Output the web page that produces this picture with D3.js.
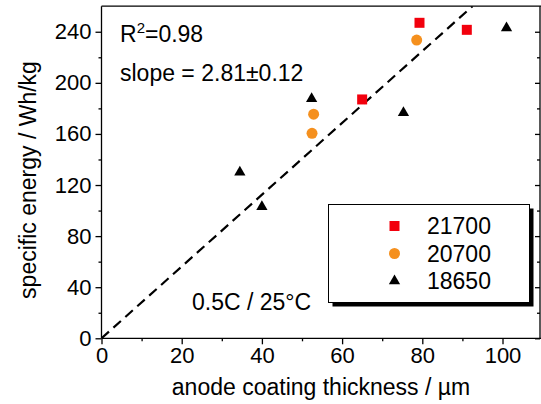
<!DOCTYPE html>
<html>
<head>
<meta charset="utf-8">
<script src="https://cdn.jsdelivr.net/npm/d3@7"></script>
<style>
    body { margin: 0; background: #fff; }
    text { font-family: "Liberation Sans", Arial, sans-serif; fill: #000; }
</style>
</head>
<body>
<script>
// series: anode coating thickness (µm) vs specific energy (Wh/kg)
const cells21700 = [[79.3, 247], [91.1, 241.5], [65.0, 187]];
const cells20700 = [[78.6, 233.5], [52.9, 175.5], [52.5, 160.5]];
const cells18650 = [[101, 243], [52.4, 187.5], [75.3, 176.5], [34.5, 130], [40.0, 103]];
const fitSlope = 2.81;

const xTicks = [0, 20, 40, 60, 80, 100];
const yTicks = [0, 40, 80, 120, 160, 200, 240];
const legendNames = ["21700", "20700", "18650"];

const width = 541;
const height = 404;

const x = d3.scaleLinear().domain([0, 109.6]).range([101.5, 541]);
const y = d3.scaleLinear().domain([0, 260]).range([338.3, 6.2]);

const svg = d3.select('body').append("svg")
    .attr("width", width)
    .attr("height", height);

// frame
const frame = svg.append("g")
    .attr("stroke", "#000")
    .attr("stroke-width", 1.3)
    .attr("fill", "none");
frame.append("line").attr("x1", x(0)).attr("x2", x(0)).attr("y1", y(0)).attr("y2", y(260));
frame.append("line").attr("x1", x(0)).attr("x2", width).attr("y1", y(0)).attr("y2", y(0));
frame.append("line").attr("x1", x(0)).attr("x2", width).attr("y1", y(260)).attr("y2", y(260));
frame.append("line").attr("x1", width - 1).attr("x2", width - 1).attr("y1", y(0)).attr("y2", y(260));

// axes
svg.append("g")
    .attr("transform", `translate(0,${y(0)})`)
    .call(d3.axisBottom(x).tickValues(xTicks).tickSize(6).tickPadding(3).tickFormat(d3.format("d")));
svg.append("g")
    .attr("transform", `translate(0,${y(0)})`)
    .call(d3.axisBottom(x).tickValues(d3.range(10, 110, 20)).tickSize(3).tickFormat(""));

svg.append("g")
    .attr("transform", `translate(${x(0)},0)`)
    .call(d3.axisLeft(y).tickValues(yTicks).tickSize(6).tickPadding(4).tickFormat(d3.format("d")));
svg.append("g")
    .attr("transform", `translate(${x(0)},0)`)
    .call(d3.axisLeft(y).tickValues(d3.range(20, 260, 40)).tickSize(3).tickFormat(""));

// right side inward ticks
svg.append("g")
    .attr("transform", `translate(${width - 1},0)`)
    .call(d3.axisLeft(y).tickValues(yTicks).tickSize(5).tickFormat(""));
svg.append("g")
    .attr("transform", `translate(${width - 1},0)`)
    .call(d3.axisLeft(y).tickValues(d3.range(20, 260, 40)).tickSize(3).tickFormat(""));

svg.selectAll(".domain").remove();
svg.selectAll(".tick line").attr("stroke", "#000").attr("stroke-width", 1.3);
svg.selectAll(".tick text")
    .attr("font-size", 22)
    .attr("font-family", "Liberation Sans, Arial, sans-serif")
    .attr("fill", "#000");

// axis titles
svg.append("text")
    .attr("x", 321)
    .attr("y", 395)
    .attr("text-anchor", "middle")
    .attr("font-size", 23)
    .text("anode coating thickness / µm");

svg.append("text")
    .attr("transform", `translate(36,180) rotate(-90)`)
    .attr("text-anchor", "middle")
    .attr("font-size", 23)
    .text("specific energy / Wh/kg");

// fit line through origin
svg.append("defs").append("clipPath").attr("id", "plot")
    .append("rect")
    .attr("x", x(0)).attr("y", y(260))
    .attr("width", width - x(0)).attr("height", y(0) - y(260));

svg.append("line")
    .attr("clip-path", "url(#plot)")
    .attr("x1", x(0)).attr("y1", y(0))
    .attr("x2", x(260 / fitSlope)).attr("y2", y(260))
    .attr("stroke", "#000")
    .attr("stroke-width", 2.2)
    .attr("stroke-dasharray", "10,6");

// markers
const square = d3.symbol().type(d3.symbolSquare).size(100);
const circle = d3.symbol().type(d3.symbolCircle).size(95);
const triangle = d3.symbol().type(d3.symbolTriangle).size(55);

const series = [
    { name: legendNames[0], data: cells21700, sym: square, color: "#f2000d" },
    { name: legendNames[1], data: cells20700, sym: circle, color: "#f5901e" },
    { name: legendNames[2], data: cells18650, sym: triangle, color: "#000" }
];

series.forEach(s => {
    svg.append("g")
        .selectAll()
        .data(s.data)
        .join("path")
        .attr("d", s.sym)
        .attr("fill", s.color)
        .attr("transform", d => `translate(${x(d[0])},${y(d[1])})`);
});

// annotations
const r2 = svg.append("text").attr("x", 120).attr("y", 42).attr("font-size", 23);
r2.append("tspan").text("R");
r2.append("tspan").attr("font-size", 15).attr("dy", -9).text("2");
r2.append("tspan").attr("dy", 9).text("=0.98");

svg.append("text").attr("x", 120).attr("y", 81).attr("font-size", 23)
    .text("slope = 2.81±0.12");

svg.append("text").attr("x", 192).attr("y", 310).attr("font-size", 23)
    .text("0.5C / 25°C");

// legend with shadow
const legend = svg.append("g");
legend.append("rect")
    .attr("x", 332.5).attr("y", 208.5)
    .attr("width", 201).attr("height", 98)
    .attr("fill", "#000");
legend.append("rect")
    .attr("x", 328.5).attr("y", 204.5)
    .attr("width", 201).attr("height", 98)
    .attr("fill", "#fff")
    .attr("stroke", "#000")
    .attr("stroke-width", 1);

series.forEach((s, i) => {
    const ly = 226 + i * 27.5;
    legend.append("path")
        .attr("d", s.sym)
        .attr("fill", s.color)
        .attr("transform", `translate(394.5,${ly})`);
    legend.append("text")
        .attr("x", 427)
        .attr("y", ly + 8)
        .attr("font-size", 23)
        .text(s.name);
});
</script>
</body>
</html>
